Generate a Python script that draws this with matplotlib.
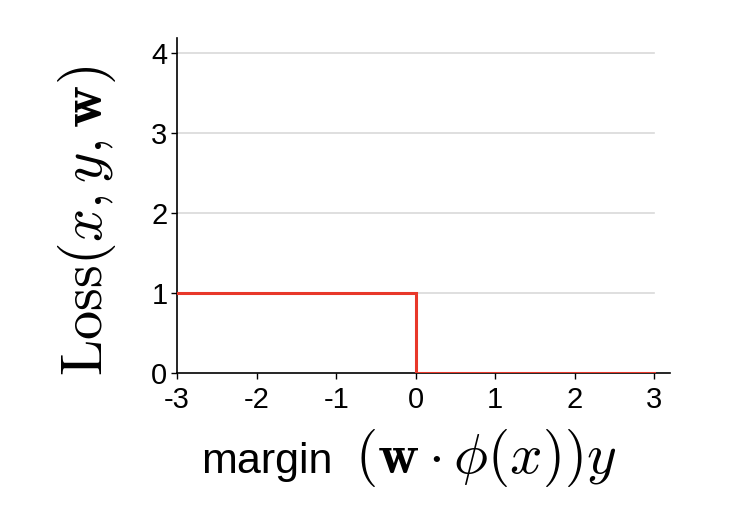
import matplotlib
matplotlib.use("Agg")
import matplotlib.pyplot as plt

plt.rcParams['font.family'] = ['Liberation Sans', 'DejaVu Sans']
plt.rcParams['mathtext.fontset'] = 'cm'

margin = [-3, 0, 0, 3]
loss = [1, 1, 0, 0]
xticks = [-3, -2, -1, 0, 1, 2, 3]
yticks = [0, 1, 2, 3, 4]

W, H = 738, 514
fig = plt.figure(figsize=(W / 100, H / 100), dpi=100)
ax = fig.add_axes([0.240, 0.274, 0.668, 0.652])

for yv in yticks[1:]:
    ax.plot([-3, 3], [yv, yv], color='#d9d9d9', lw=1.2, zorder=1)

ax.plot(margin, loss, color='#e8382a', lw=2.2, zorder=3, solid_joinstyle='miter')

ax.set_xlim(-3.0, 3.2)
ax.set_ylim(0, 4.19)
ax.set_xticks(xticks)
ax.set_xticklabels([str(v) for v in xticks])
ax.set_yticks(yticks)
ax.set_yticklabels([str(v) for v in yticks])
ax.tick_params(axis='both', labelsize=21, length=4, width=1)
ax.tick_params(axis='x', pad=5)
ax.tick_params(axis='y', pad=3)
for s in ['top', 'right']:
    ax.spines[s].set_visible(False)
for s in ['left', 'bottom']:
    ax.spines[s].set_linewidth(1.2)

fig.text(87 / W, 1 - 221 / H, r'$\mathrm{Loss}(x,y,\mathbf{w})$', fontsize=42,
         rotation=90, ha='center', va='center')

fig.text(332 / W, 1 - 473 / H, 'margin', fontsize=31, ha='right', va='baseline')
fig.text(355 / W, 1 - 473 / H, r'$(\mathbf{w}\cdot\phi(x))y$', fontsize=41,
         ha='left', va='baseline')

fig.savefig('out.png', dpi=100)
